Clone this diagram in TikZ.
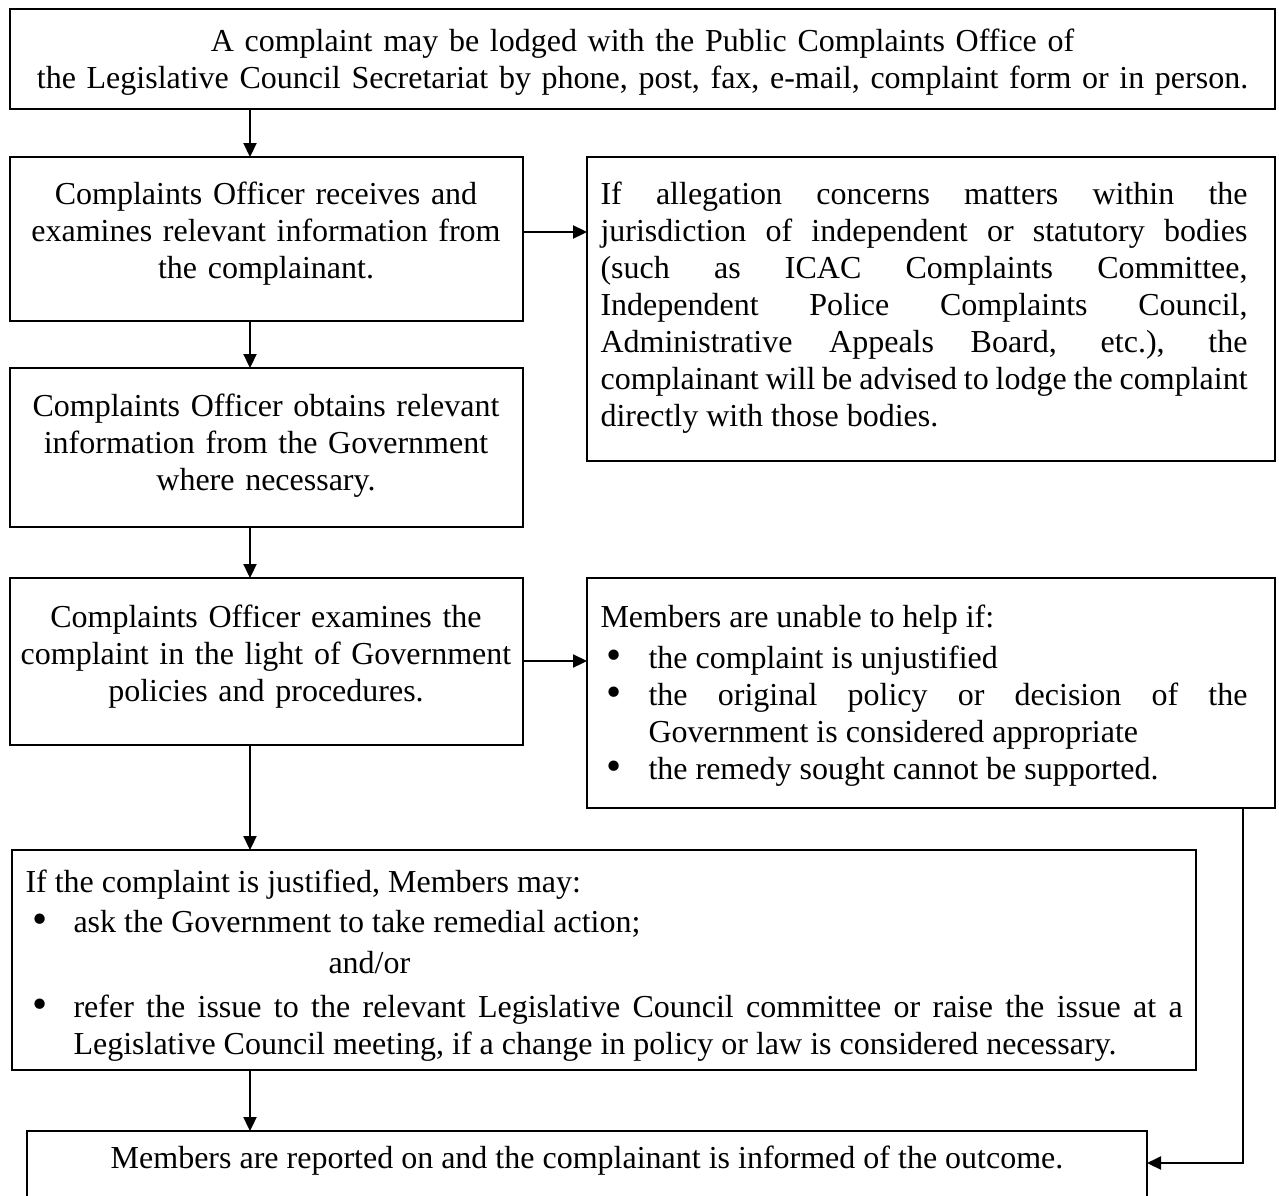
\documentclass[tikz,border=0pt]{standalone}
\usepackage{fontspec}
\setmainfont{Liberation Serif}
\usetikzlibrary{arrows.meta}
\newlength\pxu
\setlength\pxu{0.375pt}
\newcommand\pbox[5]{\node[box, minimum width={(#4-#2)*\pxu}, minimum height={(#5-#3)*\pxu}] (#1) at (#2,#3) {};}
\newcommand\bigbul{\raisebox{-0.6pt}{\scalebox{1.35}{\textbullet}}}
% #1 bullet offset, #2 item text
\newcommand\bitem[2]{\par{\leftskip=48\pxu\noindent\llap{\hbox to 48\pxu{\hspace{#1\pxu}\bigbul\hfil}}#2\par}}
\begin{document}
\begin{tikzpicture}[x=\pxu, y=-\pxu,
  box/.style={draw, line width=0.5pt, rectangle, inner sep=0pt, outer sep=0pt, anchor=north west},
  txt/.style={inner sep=0pt, font=\fontsize{12pt}{37\pxu}\selectfont},
  conn/.style={line width=0.75pt, -{Triangle[length=5.25pt,width=4.9pt]}},
]
\useasboundingbox (0,0) rectangle (1279,1195);
\clip (0,0) rectangle (1279,1195);
\fill[white] (0,0) rectangle (1279,1195);

% boxes
\pbox{top}{10}{9}{1275}{109}
\pbox{b2}{10}{157}{523}{321}
\pbox{b3}{10}{368}{523}{527}
\pbox{b4}{10}{578}{523}{745}
\pbox{r1}{587}{157}{1275}{461}
\pbox{r2}{587}{578}{1275}{808}
\pbox{b5}{12}{850}{1196}{1070}
\pbox{b6}{27}{1131}{1147}{1205}

% texts
\node[txt, anchor=base, text width=1250\pxu, align=center] (t1) at (642.5,52)
  {A complaint may be lodged with the Public Complaints Office of\\
   the Legislative Council Secretariat by phone, post, fax, e-mail, complaint form or in person.};
\node[txt, anchor=base, text width=500\pxu, align=center] (t2) at (266,204)
  {Complaints Officer receives and\\ examines relevant information from\\ the complainant.};
\node[txt, anchor=base, text width=500\pxu, align=center] (t3) at (266,416)
  {Complaints Officer obtains relevant\\ information from the Government\\ where necessary.};
\node[txt, anchor=base, text width=500\pxu, align=center] (t4) at (266,627)
  {Complaints Officer examines the\\ complaint in the light of Government\\ policies and procedures.};
\node[txt, anchor=base west, text width=647\pxu, align=justify] (t5) at (600,204)
  {If allegation concerns matters within the\linebreak
   jurisdiction of independent or statutory bodies\linebreak
   (such as ICAC Complaints Committee,\linebreak
   Independent Police Complaints Council,\linebreak
   Administrative Appeals Board, etc.), the\linebreak
   complainant will be advised to lodge the complaint\linebreak
   directly with those bodies.};
\node[txt, anchor=base west, text width=647\pxu, align=justify] (t6) at (600,627)
  {Members are unable to help if:\par\vspace{4\pxu}
   \bitem{6}{the complaint is unjustified}
   \bitem{6}{the original policy or decision of the\linebreak Government is considered appropriate}
   \bitem{6}{the remedy sought cannot be supported.}};
\node[txt, anchor=base west, text width=1157\pxu, align=justify] (t7) at (25,892)
  {If the complaint is justified, Members may:\par\vspace{3\pxu}
   \bitem{7}{ask the Government to take remedial action;}\vspace{4\pxu}
   \noindent\hspace*{303\pxu}and/or\par\vspace{7\pxu}
   \bitem{7}{refer the issue to the relevant Legislative Council committee or raise the issue at a\linebreak
   Legislative Council meeting, if a change in policy or law is considered necessary.}};
\node[txt, anchor=base] (t8) at (587,1168)
  {Members are reported on and the complainant is informed of the outcome.};

% connectors
\coordinate (colA) at (250,0);
\coordinate (rowA) at (0,232);
\coordinate (rowB) at (0,661);
\coordinate (bend) at (1243,1163);
\draw[conn] (top.south -| colA) -- (b2.north -| colA);
\draw[conn] (b2.south -| colA) -- (b3.north -| colA);
\draw[conn] (b3.south -| colA) -- (b4.north -| colA);
\draw[conn] (b4.south -| colA) -- (b5.north -| colA);
\draw[conn] (b5.south -| colA) -- (b6.north -| colA);
\draw[conn] (b2.east |- rowA) -- (r1.west |- rowA);
\draw[conn] (b4.east |- rowB) -- (r2.west |- rowB);
\draw[conn] (r2.south -| bend) |- (b6.east |- bend);
\end{tikzpicture}
\end{document}
